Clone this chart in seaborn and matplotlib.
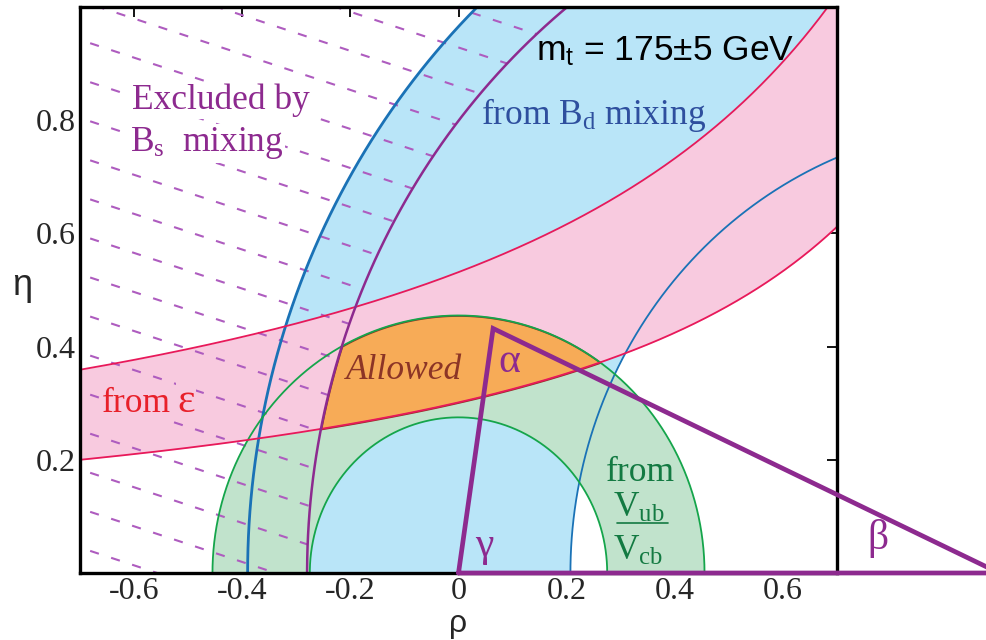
import numpy as np
import matplotlib
matplotlib.use("Agg")
import matplotlib.pyplot as plt
import seaborn as sns
from matplotlib.patches import Polygon

# constraint bands in the (rho, eta) plane
vub_radius = [0.275, 0.455]      # |Vub/Vcb| circles about (0, 0)
bd_radius = [0.793, 1.39]        # B_d mixing circles about (1, 0)
bs_radius = 1.28                 # B_s mixing limit about (1, 0)
eps_k = [0.416, 0.775]           # epsilon hyperbolas: eta = k / (a - rho)
eps_a = [1.38, 1.458]
triangle_rho = [0.0, 0.064, 1.0, 0.0]
triangle_eta = [0.0, 0.432, 0.0, 0.0]

x_ticks = [-0.6, -0.4, -0.2, 0.0, 0.2, 0.4, 0.6]
x_labels = ["-0.6", "-0.4", "-0.2", "0", "0.2", "0.4", "0.6"]
y_ticks = [0.2, 0.4, 0.6, 0.8]
y_labels = ["0.2", "0.4", "0.6", "0.8"]

BLUE_FILL, BLUE_LINE = "#b9e5f8", "#1a72b6"
PINK_FILL, PINK_LINE = "#f8cadf", "#e8195a"
GREEN_FILL, GREEN_LINE = "#c1e3cc", "#15a54b"
ORANGE_FILL, ORANGE_LINE = "#f7ab57", "#8c3526"
PURPLE = "#8d2a8f"
HATCH = "#ae5cbf"

sns.set_theme(style="white")
plt.rcParams["font.family"] = ["Liberation Serif", "DejaVu Serif"]
plt.rcParams["mathtext.fontset"] = "custom"
plt.rcParams["mathtext.rm"] = "Liberation Serif"
plt.rcParams["mathtext.it"] = "Liberation Serif:italic"
plt.rcParams["mathtext.sf"] = "Liberation Sans"
SANS = ["Liberation Sans", "DejaVu Sans"]

fig = plt.figure(figsize=(9.86, 6.4), dpi=100)
ax = fig.add_axes([80 / 986, 67 / 640, 757 / 986, 566 / 640])

theta = np.linspace(0, np.pi, 600)


def arc(cx, r):
    return cx + r * np.cos(theta), r * np.sin(theta)


def fill_annulus(cx, radii, color, z):
    xo, yo = arc(cx, radii[1])
    xi, yi = arc(cx, radii[0])
    ax.fill(np.r_[xo, xi[::-1]], np.r_[yo, yi[::-1]], color=color, lw=0, zorder=z)


rho = np.linspace(-0.75, 0.75, 800)
eps_lo = eps_k[0] / (eps_a[0] - rho)
eps_hi = eps_k[1] / (eps_a[1] - rho)

# fills: B_d band, Vub band, epsilon band
fill_annulus(1.0, bd_radius, BLUE_FILL, 1.0)
fill_annulus(0.0, vub_radius, GREEN_FILL, 1.1)
ax.fill_between(rho, eps_lo, eps_hi, color=PINK_FILL, lw=0, zorder=1.2)

# allowed region = overlap of everything
rr = np.linspace(-0.3, 0.47, 4000)
lo = np.maximum(eps_k[0] / (eps_a[0] - rr),
                np.sqrt(np.clip(vub_radius[0] ** 2 - rr ** 2, 0, None)))
hi = np.minimum.reduce([
    np.sqrt(np.clip(vub_radius[1] ** 2 - rr ** 2, 0, None)),
    eps_k[1] / (eps_a[1] - rr),
    np.sqrt(np.clip(bs_radius ** 2 - (rr - 1) ** 2, 0, None)),
])
ax.fill_between(rr, lo, hi, where=hi > lo, interpolate=True,
                facecolor=ORANGE_FILL, edgecolor=ORANGE_LINE, lw=1.3, zorder=1.3)

# dashed hatching of the region excluded by B_s mixing
xb, yb = arc(1.0, bs_radius)
keep = theta >= np.pi / 2
clip = Polygon(np.c_[np.r_[xb[keep], -0.8, -0.8, 1.0],
                     np.r_[yb[keep], 0.0, 1.3, 1.3]], closed=True)
clip.set_transform(ax.transData)
hx = np.array([-0.72, 0.72])
for c in np.arange(-0.30, 1.45, 0.069):
    ln, = ax.plot(hx, c - 0.315 * (hx + 0.7), color=HATCH, lw=1.5,
                  dashes=(4.4, 6.2), zorder=1.5)
    ln.set_clip_path(clip)

# boundary curves
for r, lw in zip(bd_radius, [1.3, 2.0]):
    x, y = arc(1.0, r)
    sns.lineplot(x=x, y=y, sort=False, estimator=None, color=BLUE_LINE, lw=lw,
                 ax=ax, zorder=1.6)
for r in vub_radius:
    x, y = arc(0.0, r)
    sns.lineplot(x=x, y=y, sort=False, estimator=None, color=GREEN_LINE, lw=1.3,
                 ax=ax, zorder=1.6)
for k, a in zip(eps_k, eps_a):
    sns.lineplot(x=rho, y=k / (a - rho), sort=False, estimator=None,
                 color=PINK_LINE, lw=1.3, ax=ax, zorder=1.7)
x, y = arc(1.0, bs_radius)
sns.lineplot(x=x, y=y, sort=False, estimator=None, color=PURPLE, lw=1.8,
             ax=ax, zorder=1.8)

# unitarity triangle, runs past the frame to (1, 0)
sns.lineplot(x=triangle_rho, y=triangle_eta, sort=False, estimator=None,
             color=PURPLE, lw=3.4, ax=ax, zorder=3, clip_on=False,
             solid_joinstyle="miter")

ax.set_xlim(-0.7, 0.7)
ax.set_ylim(0, 1.0)
ax.set_xticks(x_ticks, x_labels)
ax.set_yticks(y_ticks, y_labels)
ax.tick_params(direction="in", length=7, width=1.3, color="black",
               top=True, right=True, labelsize=23, pad=3)
ax.tick_params(axis="y", pad=3)
for s in ax.spines.values():
    s.set_linewidth(2.4)
    s.set_color("black")

ax.set_xlabel("ρ", family=SANS, fontsize=23)
ax.xaxis.set_label_coords(0.5, -0.104)
ax.xaxis.label.set_va("baseline")
ax.set_ylabel("η", family=SANS, fontsize=26, rotation=0)
ax.yaxis.set_label_coords(-0.077, 0.491)
ax.yaxis.label.set_va("baseline")
ax.yaxis.label.set_ha("center")

# annotations; labels in the hatched area sit on a plain patch
txt = dict(fontsize=25.5, ha="left", va="baseline")
white = dict(facecolor="white", edgecolor="none", pad=1)
pink = dict(facecolor=PINK_FILL, edgecolor="none", pad=1)
ax.text(-0.604, 0.819, "Excluded by", color=PURPLE, bbox=white, **txt)
ax.text(-0.607, 0.745, r"B$_\mathrm{s}$  mixing", color=PURPLE, bbox=white, **txt)
ax.text(0.041, 0.793, r"from B$_\mathrm{d}$ mixing", color="#2e4f9e", **txt)
ax.text(0.143, 0.904, r"m$_\mathsf{t}$ = 175±5 GeV", color="black",
        family=SANS, fontsize=25.5, ha="left", va="baseline")
ax.text(-0.659, 0.285, "from", color="#e8202a", bbox=pink, **txt)
ax.text(-0.520, 0.285, "ε", color="#e8202a", fontsize=30, ha="left",
        va="baseline", bbox=pink)
ax.text(-0.209, 0.342, "Allowed", color=ORANGE_LINE, style="italic", **txt)
greek = dict(fontsize=30, color=PURPLE, ha="left", va="baseline")
ax.text(0.074, 0.356, "α", **greek)
ax.text(0.030, 0.030, "γ", **greek)
ax.text(0.756, 0.042, "β", **greek)
ax.text(0.273, 0.163, "from", color="#137a42", **txt)
ax.text(0.285, 0.099, r"V$_\mathrm{ub}$", color="#137a42", **txt)
ax.text(0.285, 0.023, r"V$_\mathrm{cb}$", color="#137a42", **txt)
ax.plot([0.293, 0.387], [0.088, 0.088], color="#137a42", lw=1.2, zorder=3)

fig.savefig("out.png", dpi=100)
